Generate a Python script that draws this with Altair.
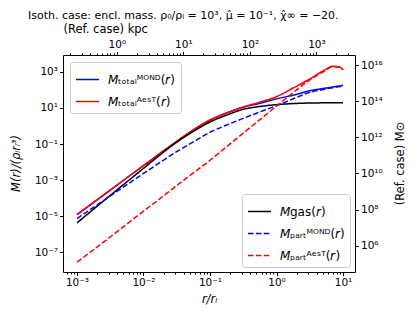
import altair as alt
import pandas as pd

# ---- data (log10 values) ----
logr = [-3, -2.5, -2, -1.75, -1.5, -1.25, -1, -0.75, -0.5, -0.25, 0, 0.25, 0.5, 0.7, 0.85, 0.95, 1.0]
m_gas = [-5.37, -3.85, -2.35, -1.6, -0.9, -0.3, 0.22, 0.6, 0.92, 1.08, 1.18, 1.24, 1.27, 1.28, 1.285, 1.29, 1.29]
m_tot_aest = [-4.91, -3.55, -2.2, -1.52, -0.85, -0.22, 0.33, 0.72, 1.05, 1.32, 1.62, 2.1, 2.6, 3.05, 3.3, 3.27, 3.12]
m_tot_mond = [-4.91, -3.55, -2.2, -1.52, -0.85, -0.22, 0.33, 0.72, 1.04, 1.26, 1.5, 1.7, 1.95, 2.07, 2.16, 2.22, 2.26]
m_part_mond = [-5.13, -3.88, -2.63, -2.02, -1.42, -0.88, -0.35, 0.05, 0.42, 0.78, 1.12, 1.5, 1.86, 2.02, 2.12, 2.18, 2.21]
m_part_aest = [-7.55, -6.15, -4.72, -4.02, -3.3, -2.6, -1.9, -1.15, -0.4, 0.35, 1.1, 1.85, 2.55, 3.0, 3.28, 3.25, 3.1]

lab_tm = "𝘔ₜₒₜₐₗᴹᴼᴺᴰ(𝘳)"
lab_ta = "𝘔ₜₒₜₐₗᴬᵉˢᵀ(𝘳)"
lab_gas = "𝘔gas(𝘳)"
lab_pm = "𝘔ₚₐᵣₜᴹᴼᴺᴰ(𝘳)"
lab_pa = "𝘔ₚₐᵣₜᴬᵉˢᵀ(𝘳)"

x_dom = [10 ** -3.21, 10 ** 1.18]
y_dom = [10 ** -8.09, 10 ** 3.93]
kpc_dom = [10 ** -0.81, 10 ** 3.58]
msun_dom = [10 ** 4.54, 10 ** 16.56]

rows = []
for name, grp, vals in [
    (lab_tm, "total", m_tot_mond),
    (lab_ta, "total", m_tot_aest),
    (lab_gas, "part", m_gas),
    (lab_pm, "part", m_part_mond),
    (lab_pa, "part", m_part_aest),
]:
    for L, v in zip(logr, vals):
        rows.append({"r": 10 ** L, "M": 10 ** v, "series": name, "group": grp})
df = pd.DataFrame(rows)
twin_df = pd.DataFrame({"kpc": kpc_dom, "Msun": msun_dom})

SUP = {"-": "⁻", "0": "⁰", "1": "¹", "2": "²", "3": "³", "4": "⁴",
       "5": "⁵", "6": "⁶", "7": "⁷", "8": "⁸", "9": "⁹"}


def sup(k):
    return "10" + "".join(SUP[c] for c in str(k))


E = "round(log(datum.value)/LN10)"
MAJOR = f"abs(log(datum.value)/LN10 - {E}) < 1e-6"


def label_expr(exps):
    s = "''"
    for k in reversed(exps):
        s = f"({E} == {k}) ? '{sup(k)}' : ({s})"
    return f"({MAJOR}) ? ({s}) : ''"


def log_ticks(lo, hi):
    out = []
    for d in range(-6, 8):
        for m in range(1, 10):
            v = m * 10.0 ** d
            if lo <= v <= hi:
                out.append(v)
    return out


TICK = {"condition": {"test": MAJOR, "value": 3.5}, "value": 2}
FONT = "DejaVu Sans"
common_axis = dict(grid=False, domain=False, tickColor="black", labelColor="black",
                   labelFont=FONT, titleFont=FONT, labelFontSize=10.5, titleFontSize=11.5,
                   titleColor="black", titleFontWeight="normal", labelOverlap=False,
                   labelFlush=False, labelPadding=2)

x_enc = alt.X("r:Q", scale=alt.Scale(type="log", domain=x_dom, nice=False),
              axis=alt.Axis(orient="bottom", values=log_ticks(*x_dom),
                            labelExpr=label_expr([-3, -2, -1, 0, 1]), tickSize=TICK,
                            title="r/rₗ", titleFontStyle="italic",
                            titleX=146, titleY=27, titleBaseline="middle", **common_axis))
y_enc = alt.Y("M:Q", scale=alt.Scale(type="log", domain=y_dom, nice=False),
              axis=alt.Axis(orient="left", values=[10.0 ** k for k in [-7, -5, -3, -1, 1, 3]],
                            labelExpr=label_expr([-7, -5, -3, -1, 1, 3]), tickSize=3.5,
                            title="M(r)/(ρₗrₗ³)", titleFontStyle="italic",
                            titleX=-47, titleY=108, titleBaseline="middle", titleAngle=270,
                            **common_axis))

leg_common = dict(title=None, fillColor="white", strokeColor="#cccccc", cornerRadius=3,
                  padding=5, labelFontSize=12, labelFont=FONT, labelColor="black",
                  symbolSize=529, symbolStrokeWidth=1.5, labelOffset=8, rowPadding=3,
                  symbolType="stroke")

totals = alt.Chart(df).transform_filter(alt.datum.group == "total").mark_line(
    strokeWidth=1.5, interpolate="monotone").encode(
    x=x_enc, y=y_enc,
    color=alt.Color("series:N", sort=[lab_tm, lab_ta],
                    scale=alt.Scale(domain=[lab_tm, lab_ta], range=["#0000ff", "#ff0000"]),
                    legend=alt.Legend(orient="top-left", offset=7, **leg_common)),
)

leg2 = alt.Legend(orient="bottom-right", offset=5, **leg_common)
parts = alt.Chart(df).transform_filter(alt.datum.group == "part").mark_line(
    strokeWidth=1.5, interpolate="monotone").encode(
    x=x_enc, y=y_enc,
    color=alt.Color("series:N", sort=[lab_gas, lab_pm, lab_pa],
                    scale=alt.Scale(domain=[lab_gas, lab_pm, lab_pa],
                                    range=["#000000", "#0000ff", "#ff0000"]),
                    legend=leg2),
    strokeDash=alt.StrokeDash("series:N", sort=[lab_gas, lab_pm, lab_pa],
                              scale=alt.Scale(domain=[lab_gas, lab_pm, lab_pa],
                                              range=[[1, 0], [5.5, 2.4], [5.5, 2.4]]),
                              legend=leg2),
)

inner = alt.layer(totals, parts).resolve_scale(color="independent", strokeDash="independent")

twin = alt.Chart(twin_df).mark_point(opacity=0).encode(
    x=alt.X("kpc:Q", scale=alt.Scale(type="log", domain=kpc_dom, nice=False),
            axis=alt.Axis(orient="top", values=log_ticks(*kpc_dom),
                          labelExpr=label_expr([0, 1, 2, 3]), tickSize=TICK,
                          title="(Ref. case) kpc", titleX=0, titleY=-26,
                          titleAlign="left", titleBaseline="middle", **common_axis)),
    y=alt.Y("Msun:Q", scale=alt.Scale(type="log", domain=msun_dom, nice=False),
            axis=alt.Axis(orient="right", values=[10.0 ** k for k in [6, 8, 10, 12, 14, 16]],
                          labelExpr=label_expr([6, 8, 10, 12, 14, 16]), tickSize=3.5,
                          title="(Ref. case) M⊙", titleAngle=270, titleX=45, titleY=108,
                          titleAlign="center", titleBaseline="middle", **common_axis)),
)

chart = alt.layer(inner, twin).resolve_scale(x="independent", y="independent").properties(
    width=292, height=217,
    title=alt.TitleParams(
        text="Isoth. case: encl. mass. ρ₀/ρₗ = 10³, μ̂ = 10⁻¹, χ̂∞ = −20.",
        anchor="start", frame="group", dx=-35, fontSize=11, font=FONT,
        fontWeight="normal", color="black", offset=2),
    autosize=alt.AutoSizeParams(type="none"),
    padding={"left": 55, "top": 47, "right": 50, "bottom": 35},
).configure(font=FONT).configure_view(stroke="black", strokeWidth=1)

chart.save("out.html", embed_options={"renderer": "svg", "actions": False})
